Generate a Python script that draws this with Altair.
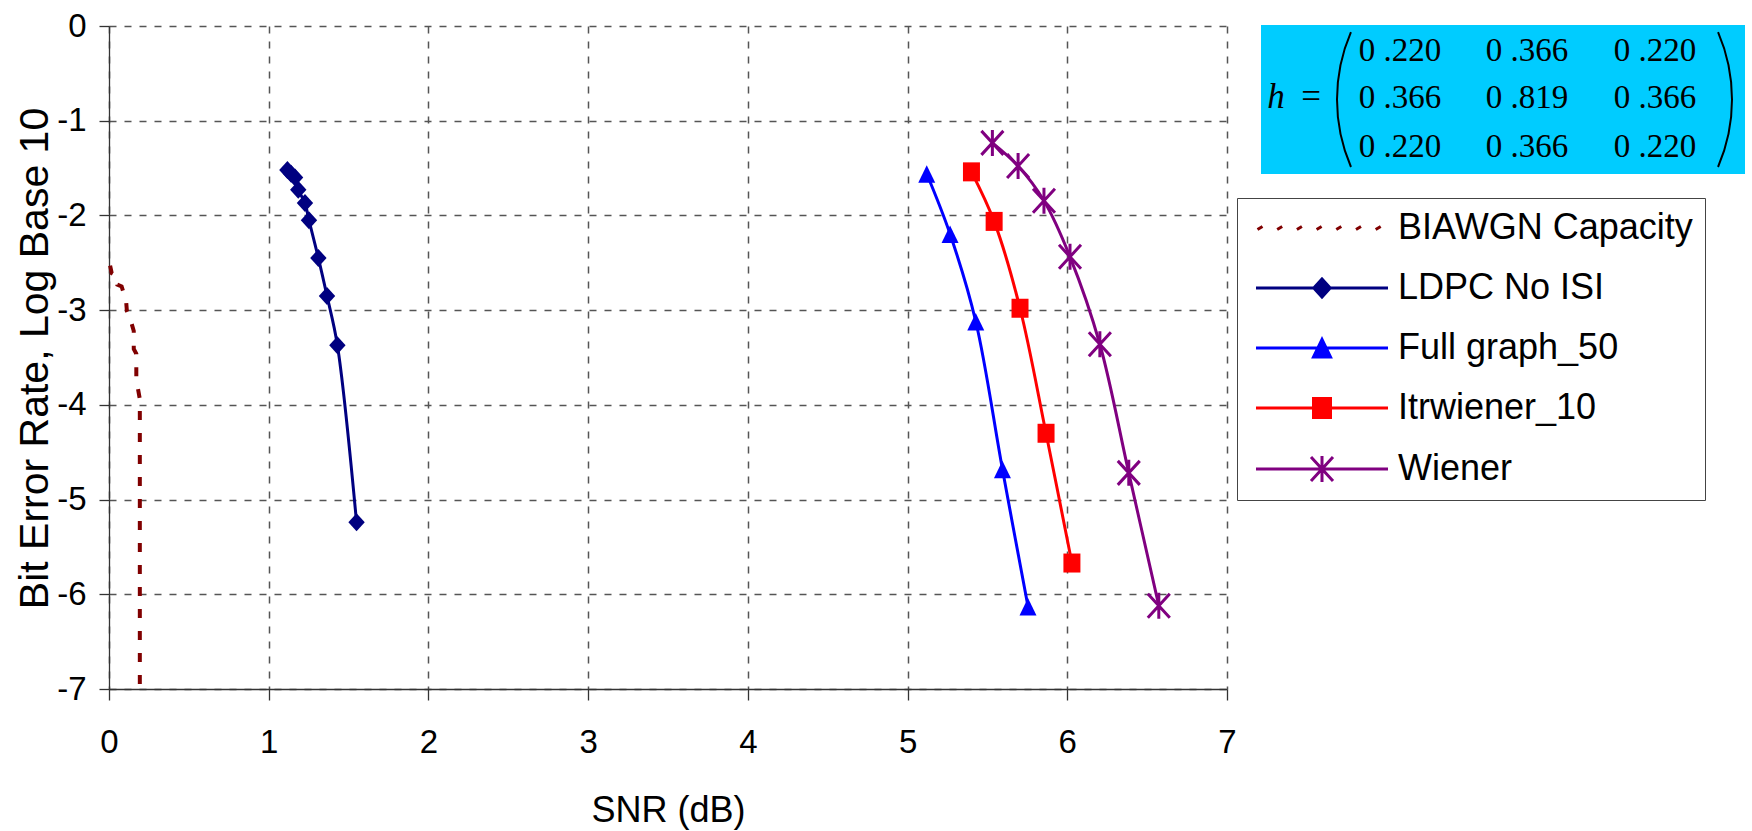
import altair as alt
import pandas as pd

# ---------------- data ----------------
series_names = ["BIAWGN Capacity", "LDPC No ISI", "Full graph_50", "Itrwiener_10", "Wiener"]
series_colors = ["#800000", "#000080", "#0000FF", "#FF0000", "#800080"]

biawgn_snr = [0.007, 0.017, 0.048, 0.052, 0.079, 0.107, 0.112, 0.131, 0.155, 0.155, 0.171, 0.171, 0.193, 0.193]
biawgn_ber = [-2.53, -2.61, -2.64, -2.73, -2.75, -2.90, -3.01, -3.08, -3.22, -3.41, -3.46, -3.73, -3.94, -7.0]

ldpc_snr = [1.117, 1.14, 1.165, 1.185, 1.227, 1.252, 1.311, 1.365, 1.43, 1.55]
ldpc_ber = [-1.52, -1.56, -1.60, -1.73, -1.87, -2.05, -2.45, -2.85, -3.37, -5.24]

full_snr = [5.12, 5.266, 5.427, 5.594, 5.754]
full_ber = [-1.56, -2.196, -3.12, -4.68, -6.13]

itr_snr = [5.40, 5.542, 5.704, 5.867, 6.029]
itr_ber = [-1.54, -2.063, -2.98, -4.30, -5.67]

wiener_snr = [5.531, 5.692, 5.854, 6.017, 6.204, 6.385, 6.573]
wiener_ber = [-1.234, -1.479, -1.846, -2.437, -3.36, -4.718, -6.12]

x_ticks = [0, 1, 2, 3, 4, 5, 6, 7]
y_ticks = [-7, -6, -5, -4, -3, -2, -1, 0]

h_matrix = [["0 .220", "0 .366", "0 .220"],
            ["0 .366", "0 .819", "0 .366"],
            ["0 .220", "0 .366", "0 .220"]]

# ---------------- styling ----------------
SANS = "Liberation Sans, Arial, sans-serif"
SERIF = "Liberation Serif, Times New Roman, serif"

PLOT_W, PLOT_H = 1118, 663
PAD_L, PAD_T = 109, 26

marker_paths = {
    "LDPC No ISI": "M0,-0.9L0.82,0L0,0.9L-0.82,0Z",
    "Full graph_50": "M0,-0.85L0.85,0.9L-0.85,0.9Z",
    "Itrwiener_10": "M-0.85,-0.95L0.85,-0.95L0.85,0.95L-0.85,0.95Z",
    "Wiener": "M-1.1,-1.2L1.1,1.2M-1.1,1.2L1.1,-1.2M0,-1.3L0,1.3",
}
line_path = "M-6.6,0L6.6,0"
dash_path = "".join(
    f"M{c - 0.25:.2f},0.15L{c + 0.25:.2f},-0.15" for c in [-6.2 + i * 1.97 for i in range(7)]
)
legend_paths = [dash_path] + [line_path + marker_paths[n] for n in series_names[1:]]

rows = []
for name, xs, ys in [
    (series_names[0], biawgn_snr, biawgn_ber),
    (series_names[1], ldpc_snr, ldpc_ber),
    (series_names[2], full_snr, full_ber),
    (series_names[3], itr_snr, itr_ber),
    (series_names[4], wiener_snr, wiener_ber),
]:
    for i, (x, y) in enumerate(zip(xs, ys)):
        rows.append({"series": name, "snr": x, "ber": y, "order": i})
data = pd.DataFrame(rows)

x_scale = alt.Scale(domain=[0, 7], nice=False, zero=False)
y_scale = alt.Scale(domain=[-7, 0], nice=False, zero=False)

GRID = "#555555"
x_axis = alt.Axis(
    values=x_ticks, labelExpr="datum.value + ''", grid=True, gridDash=[7, 8],
    gridColor=GRID, gridWidth=1.5, domainColor="#333333", domainWidth=1.3,
    tickSize=11, tickColor="#333333", tickWidth=1.3, labelFont=SANS, labelFontSize=33,
    labelColor="black", labelBaseline="alphabetic", labelPadding=52, labelFlush=False,
    labelOverlap=False, title="SNR (dB)", titleFont=SANS, titleFontSize=36,
    titleFontWeight="normal", titleColor="black", titleBaseline="alphabetic", titleY=132,
)
y_axis = alt.Axis(
    values=y_ticks, labelExpr="datum.value + ''", grid=True, gridDash=[7, 8],
    gridColor=GRID, gridWidth=1.5, domainColor="#333333", domainWidth=1.3,
    tickSize=10, tickColor="#333333", tickWidth=1.3, labelFont=SANS, labelFontSize=33,
    labelColor="black", labelPadding=13, labelFlush=False, labelOverlap=False,
    title="Bit Error Rate, Log Base 10", titleFont=SANS, titleFontSize=41,
    titleFontWeight="normal", titleColor="black", titleBaseline="alphabetic",
    titleAngle=270, titleX=-62, titleY=332,
)

base = alt.Chart(data)
X = alt.X("snr:Q", scale=x_scale, axis=x_axis)
Y = alt.Y("ber:Q", scale=y_scale, axis=y_axis)

layers = []
# BIAWGN capacity: dashed, linear
layers.append(
    base.transform_filter(alt.datum.series == series_names[0])
    .mark_line(color=series_colors[0], strokeWidth=4, strokeDash=[9, 13], interpolate="linear")
    .encode(x=X, y=Y, order="order:Q")
)
# smoothed lines
for name, col in zip(series_names[1:], series_colors[1:]):
    layers.append(
        base.transform_filter(alt.datum.series == name)
        .mark_line(color=col, strokeWidth=3, interpolate="catmull-rom")
        .encode(x=X, y=Y, order="order:Q")
    )
# markers
for name, col in zip(series_names[1:], series_colors[1:]):
    if name == "Wiener":
        props = dict(shape=marker_paths[name], filled=False, color=col, strokeWidth=3, size=400, opacity=1)
    else:
        props = dict(shape=marker_paths[name], filled=True, color=col, size=400, opacity=1)
    layers.append(
        base.transform_filter(alt.datum.series == name).mark_point(**props).encode(x=X, y=Y)
    )

# legend carrier (no drawn points: values are empty)
legend_df = pd.DataFrame({"series": series_names, "snr": [None] * 5, "ber": [None] * 5})
leg = alt.Legend(
    title=None, orient="none", legendX=1128, legendY=172, symbolSize=400,
    symbolStrokeWidth=3, symbolOffset=55, labelOffset=58, labelFont=SANS,
    labelFontSize=36, labelColor="black", labelLimit=500, padding=12,
    strokeColor="#444444", fillColor="white", rowPadding=24,
)
layers.append(
    alt.Chart(legend_df).mark_point(filled=True, opacity=1).encode(
        x=alt.X("snr:Q", scale=x_scale, axis=x_axis),
        y=alt.Y("ber:Q", scale=y_scale, axis=y_axis),
        shape=alt.Shape("series:N", scale=alt.Scale(domain=series_names, range=legend_paths), legend=leg),
        fill=alt.Fill("series:N", scale=alt.Scale(domain=series_names, range=series_colors), legend=leg),
        stroke=alt.Stroke("series:N", scale=alt.Scale(domain=series_names, range=series_colors), legend=leg),
    )
)

# matrix annotation box
one = pd.DataFrame({"a": [0]})
layers.append(
    alt.Chart(one).mark_rect(color="#00CCFF").encode(
        x=alt.value(1152), x2=alt.value(1636), y=alt.value(-1), y2=alt.value(148)
    )
)
col_x = [1291, 1418, 1546]
row_y = [35, 82, 131]
for r in range(3):
    for c in range(3):
        layers.append(
            alt.Chart(one).mark_text(font=SERIF, fontSize=33, align="center", baseline="alphabetic", color="black")
            .encode(x=alt.value(col_x[c]), y=alt.value(row_y[r]), text=alt.value(h_matrix[r][c]))
        )
layers.append(
    alt.Chart(one).mark_text(font=SERIF, fontSize=35, fontStyle="italic", align="center", baseline="alphabetic", color="black")
    .encode(x=alt.value(1167), y=alt.value(82), text=alt.value("h"))
)
layers.append(
    alt.Chart(one).mark_text(font=SERIF, fontSize=35, align="center", baseline="alphabetic", color="black")
    .encode(x=alt.value(1202), y=alt.value(82), text=alt.value("="))
)
# parentheses
layers.append(
    alt.Chart(one).mark_arc(theta=4.304, theta2=5.120, radius=171, radius2=169, color="black")
    .encode(x=alt.value(1398), y=alt.value(73.5))
)
layers.append(
    alt.Chart(one).mark_arc(theta=1.163, theta2=1.979, radius=171, radius2=169, color="black")
    .encode(x=alt.value(1453), y=alt.value(73.5))
)

chart = (
    alt.layer(*layers)
    .properties(
        width=PLOT_W, height=PLOT_H,
        autosize=alt.AutoSizeParams(type="none"),
        padding={"left": PAD_L, "top": PAD_T, "right": 1752 - PAD_L - PLOT_W, "bottom": 831 - PAD_T - PLOT_H},
        background="white",
    )
    .configure_view(stroke=None)
)

chart.save("out.html", embed_options={"renderer": "svg", "actions": False})
